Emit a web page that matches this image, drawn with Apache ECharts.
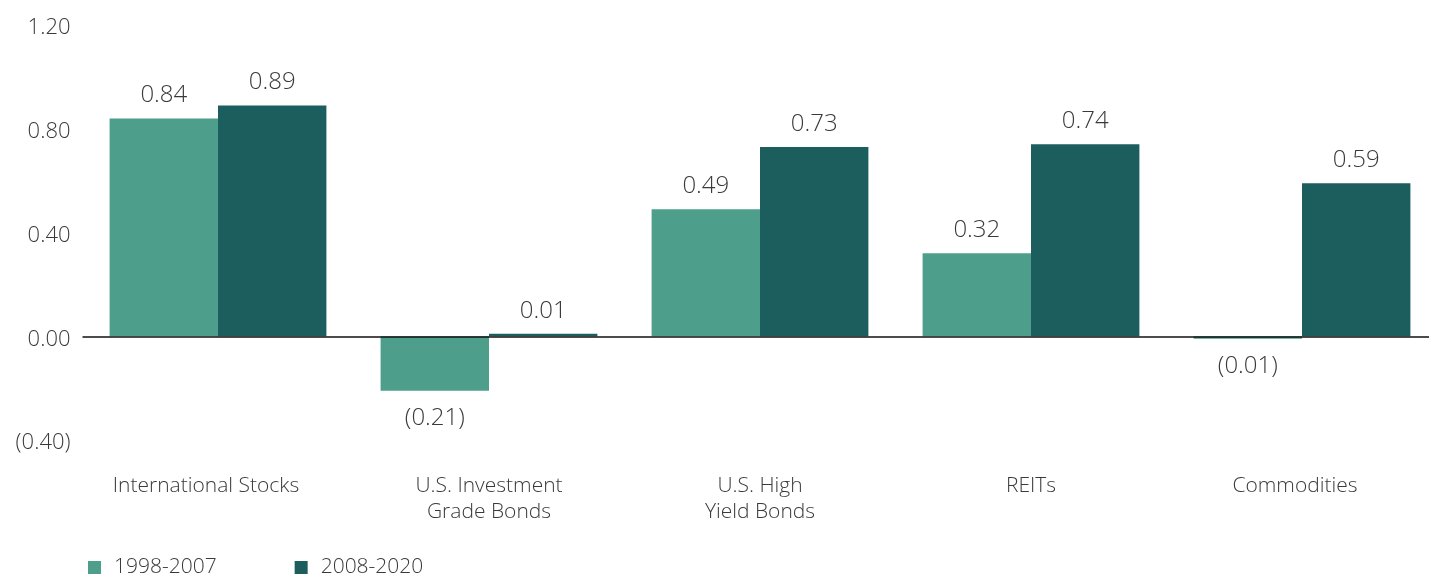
<!DOCTYPE html>
<html><head><meta charset="utf-8">
<script src="https://cdn.jsdelivr.net/npm/echarts@6/dist/echarts.min.js"></script>
<style>html,body{margin:0;padding:0;background:#fff}#c{width:1429px;height:575px}</style>
</head><body><div id="c"></div>
<script>
const categories = ['International Stocks', 'U.S. Investment\nGrade Bonds', 'U.S. High\nYield Bonds', 'REITs', 'Commodities'];
const series1Name = '1998-2007';
const series2Name = '2008-2020';
const series1 = [0.84, -0.21, 0.49, 0.32, -0.01];
const series2 = [0.89, 0.01, 0.73, 0.74, 0.59];
const yTicks = [-0.4, 0, 0.4, 0.8, 1.2];

const FONT = '"Open Sans", "Noto Sans", sans-serif';
const TXT = '#3a3a3a';
function fmt(v){ return v < 0 ? '(' + Math.abs(v).toFixed(2) + ')' : v.toFixed(2); }
function mk(vals){
  return vals.map(v => ({value: v, label: {position: v < 0 ? 'bottom' : 'top', distance: v < 0 ? 15 : 11}}));
}
const catStyle = {fontFamily: FONT, fontSize: 21, fontWeight: 300, color: TXT, lineHeight: 26};
const chart = echarts.init(document.getElementById('c'), null, {renderer: 'canvas'});
chart.setOption({
  animation: false,
  textStyle: {fontFamily: FONT},
  grid: {left: 82.5, width: 1355, top: 25, bottom: 135, containLabel: false, outerBoundsMode: 'none'},
  legend: {
    left: 83, top: 552, itemWidth: 13, itemHeight: 13, itemGap: 78,
    icon: 'rect',
    textStyle: {fontFamily: FONT, fontSize: 21, fontWeight: 300, color: TXT, padding: [0, 0, 0, 8]},
    data: [series1Name, series2Name]
  },
  xAxis: {
    type: 'category', data: categories,
    axisLine: {show: false, onZero: false}, axisTick: {show: false},
    axisLabel: Object.assign({
      margin: 33, interval: 0, hideOverlap: false,
      formatter: (v, i) => i === 0 ? '{f|' + v + '}' : (i === categories.length - 1 ? '{l|' + v + '}' : v),
      rich: {
        f: Object.assign({padding: [0, 24, 0, 0]}, catStyle),
        l: Object.assign({padding: [0, 14, 0, 0]}, catStyle)
      }
    }, catStyle)
  },
  yAxis: {
    type: 'value', min: -0.4, max: 1.2, interval: 0.4,
    splitLine: {show: false}, axisLine: {show: false}, axisTick: {show: false},
    axisLabel: {
      margin: 12, fontFamily: FONT, fontSize: 22, fontWeight: 300, color: TXT,
      formatter: v => '{a|' + fmt(v) + '}',
      rich: {a: {fontFamily: FONT, fontSize: 22, fontWeight: 300, color: TXT, padding: [6, 0, 0, 0]}}
    }
  },
  series: [
    {
      name: series1Name, type: 'bar', data: mk(series1), barGap: '0%', barCategoryGap: '20%',
      itemStyle: {color: '#4d9f8c'},
      label: {show: true, fontFamily: FONT, fontSize: 24, fontWeight: 300, color: TXT, formatter: p => fmt(p.value)},
      markLine: {
        silent: true, symbol: 'none', label: {show: false},
        lineStyle: {color: '#111', width: 1.5, type: 'solid'},
        data: [{yAxis: 0}]
      }
    },
    {
      name: series2Name, type: 'bar', data: mk(series2), barGap: '0%', barCategoryGap: '20%',
      itemStyle: {color: '#1b5e5d'},
      label: {show: true, fontFamily: FONT, fontSize: 24, fontWeight: 300, color: TXT, formatter: p => fmt(p.value)}
    }
  ]
});
</script></body></html>
